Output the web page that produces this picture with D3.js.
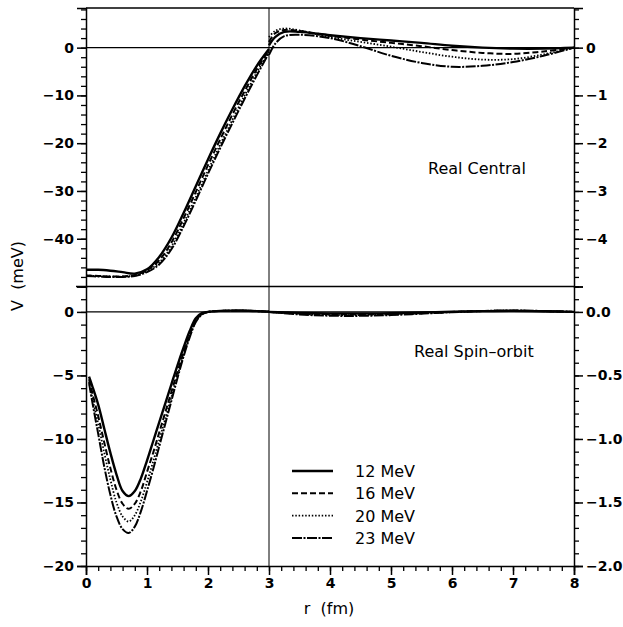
<!DOCTYPE html>
<html>
<head>
<meta charset="utf-8">
<script src="https://cdn.jsdelivr.net/npm/d3@7"></script>
<style>
  body { margin: 0; background: #fff; }
  svg { font-family: "DejaVu Sans", sans-serif; }
  .pre { white-space: pre; }
</style>
</head>
<body>
<div id="chart"></div>
<script>
// energies / legend
const energies = ["12 MeV", "16 MeV", "20 MeV", "23 MeV"]

// Real Central, r <= 3 (left axis, meV)
const rCentralIn = [0, 0.2, 0.4, 0.6, 0.8, 1.0, 1.2, 1.4, 1.6, 1.8, 2.0, 2.2, 2.4, 2.6, 2.8, 3.0]
const central12In = [-46.5, -46.5, -46.7, -47.0, -47.3, -46.4, -43.8, -39.8, -34.6, -29.0, -23.4, -18.0, -12.9, -8.1, -3.8, -0.3]
const central16In = [-47.7, -47.8, -47.9, -47.9, -47.6, -46.6, -44.5, -40.8, -35.7, -30.2, -24.6, -19.2, -14.0, -9.1, -4.5, -0.5]
const central20In = [-47.7, -47.8, -47.9, -47.9, -47.7, -46.8, -45.0, -41.6, -36.7, -31.3, -25.7, -20.3, -15.1, -10.0, -5.2, -0.8]
const central23In = [-47.8, -47.9, -48.0, -48.0, -47.8, -47.0, -45.4, -42.2, -37.4, -32.0, -26.4, -21.0, -15.8, -10.7, -5.8, -1.1]

// Real Central, r >= 3 (right axis, magnified x10)
const rCentralOut = [3.0, 3.1, 3.25, 3.5, 4.0, 4.5, 5.0, 5.5, 6.0, 6.5, 7.0, 7.5, 8.0]
const central12Out = [0.05, 0.22, 0.33, 0.33, 0.26, 0.20, 0.15, 0.10, 0.04, 0.00, -0.02, -0.02, 0]
const central16Out = [0.12, 0.30, 0.37, 0.35, 0.25, 0.17, 0.10, 0.03, -0.05, -0.11, -0.13, -0.08, 0]
const central20Out = [0.22, 0.35, 0.40, 0.36, 0.22, 0.12, 0.02, -0.09, -0.19, -0.25, -0.24, -0.14, 0]
const central23Out = [-0.15, 0.08, 0.24, 0.27, 0.20, 0.03, -0.17, -0.32, -0.40, -0.38, -0.30, -0.17, 0]

// Real Spin-orbit, r <= 3
const rSpinIn = [0.05, 0.1, 0.2, 0.3, 0.4, 0.5, 0.6, 0.7, 0.8, 0.9, 1.0, 1.1, 1.2, 1.3, 1.4, 1.5, 1.6, 1.7, 1.8, 1.9, 2.0, 2.2, 2.4, 2.6, 2.8, 3.0]
const spin12In = [-5.1, -5.8, -7.3, -9.2, -11.1, -12.8, -14.1, -14.5, -14.1, -13.1, -11.7, -10.2, -8.7, -7.2, -5.7, -4.2, -2.8, -1.5, -0.5, -0.1, 0.0, 0.08, 0.1, 0.1, 0.06, 0.02]
const spin16In = [-5.3, -6.3, -8.2, -10.3, -12.3, -14.0, -15.1, -15.5, -15.1, -14.1, -12.6, -11.1, -9.5, -7.9, -6.3, -4.7, -3.2, -1.8, -0.7, -0.15, 0.0, 0.08, 0.1, 0.1, 0.06, 0.02]
const spin20In = [-5.5, -6.7, -8.8, -11.1, -13.2, -15.0, -16.1, -16.5, -16.0, -14.9, -13.4, -11.8, -10.1, -8.4, -6.7, -5.0, -3.4, -1.9, -0.75, -0.2, 0.0, 0.08, 0.1, 0.1, 0.06, 0.02]
const spin23In = [-5.6, -7.0, -9.6, -12.2, -14.4, -16.1, -17.1, -17.4, -16.9, -15.7, -14.1, -12.4, -10.6, -8.8, -7.0, -5.2, -3.5, -2.0, -0.8, -0.2, 0.0, 0.08, 0.1, 0.1, 0.06, 0.02]

// Real Spin-orbit, r >= 3 (right axis, magnified x10)
const rSpinOut = [3.0, 3.5, 4.0, 4.5, 5.0, 5.5, 6.0, 6.5, 7.0, 7.5, 8.0]
const spin12Out = [0, -0.008, -0.012, -0.013, -0.010, -0.005, 0.002, 0.006, 0.008, 0.005, 0]
const spin16Out = [0, -0.012, -0.018, -0.019, -0.015, -0.008, 0.000, 0.007, 0.009, 0.006, 0]
const spin20Out = [0, -0.016, -0.024, -0.025, -0.020, -0.011, -0.002, 0.007, 0.010, 0.006, 0]
const spin23Out = [0, -0.020, -0.030, -0.031, -0.025, -0.014, -0.003, 0.007, 0.011, 0.007, 0]

const xTicks = [0, 1, 2, 3, 4, 5, 6, 7, 8]
const centralLeftTicks = [-40, -30, -20, -10, 0]
const centralRightTicks = [-4, -3, -2, -1, 0]
const spinLeftTicks = [-20, -15, -10, -5, 0]
const spinRightTicks = [-2.0, -1.5, -1.0, -0.5, 0.0]

const dashes = [null, "6,3", "1.5,1.8", "10,1.5,2,1.5"]
const widths = [2.4, 2, 1.8, 2]

const width = 623
const height = 627
const left = 86, right = 574
const topY = 8, midY = 286.5, botY = 566

const svg = d3.select("#chart")
  .append("svg")
    .attr("width", width)
    .attr("height", height)

const x = d3.scaleLinear().domain([0, 8]).range([left, right])

const yC = d3.scaleLinear().domain([-50, 8.3]).range([midY, topY])
const yCR = d3.scaleLinear().domain([-5, 0.83]).range([midY, topY])
const yS = d3.scaleLinear().domain([-20, 2]).range([botY, midY])
const ySR = d3.scaleLinear().domain([-2, 0.2]).range([botY, midY])

function range(a, b, step) {
  return d3.range(Math.round((b - a) / step) + 1).map(i => +(a + i * step).toFixed(3))
}

// minor ticks first, major ticks on top
function drawAxis(axisFn, scale, majors, minors, fmt, transform) {
  svg.append("g")
    .attr("transform", transform)
    .call(axisFn(scale).tickValues(minors).tickSize(5).tickFormat(""))
    .call(g => g.select(".domain").remove())
    .selectAll("line").attr("stroke-width", 1.3)
  const g = svg.append("g")
    .attr("transform", transform)
    .call(axisFn(scale).tickValues(majors).tickSize(9).tickPadding(3).tickFormat(fmt))
  g.select(".domain").attr("stroke-width", 1.5)
  g.selectAll("line").attr("stroke-width", 1.5)
  g.selectAll("text")
    .attr("font-family", "'DejaVu Sans', sans-serif")
    .attr("font-size", "14px")
    .attr("font-weight", "bold")
    .attr("fill", "#000")
  return g
}

// left axes
drawAxis(d3.axisLeft, yC, centralLeftTicks, range(-50, 8, 2), d3.format("d"), `translate(${left},0)`)
drawAxis(d3.axisLeft, yS, spinLeftTicks, range(-20, 2, 1), d3.format("d"), `translate(${left},0)`)
// right axes
drawAxis(d3.axisRight, yCR, centralRightTicks, range(-5, 0.8, 0.2), d3.format("d"), `translate(${right},0)`)
drawAxis(d3.axisRight, ySR, spinRightTicks, range(-2, 0.2, 0.1), d3.format(".1f"), `translate(${right},0)`)
// bottom axis
drawAxis(d3.axisBottom, x, xTicks, range(0, 8, 0.2), d3.format("d"), `translate(0,${botY})`)

// frame lines
svg.append("line")
  .attr("x1", left).attr("x2", right).attr("y1", topY).attr("y2", topY)
  .attr("stroke", "black").attr("stroke-width", 1.5)
svg.append("line")
  .attr("x1", left - 10).attr("x2", right).attr("y1", midY).attr("y2", midY)
  .attr("stroke", "black").attr("stroke-width", 1.5)
svg.append("line")
  .attr("x1", left).attr("x2", right).attr("y1", yC(0)).attr("y2", yC(0))
  .attr("stroke", "black").attr("stroke-width", 1.3)
svg.append("line")
  .attr("x1", left).attr("x2", right).attr("y1", yS(0)).attr("y2", yS(0))
  .attr("stroke", "black").attr("stroke-width", 1.3)
svg.append("line")
  .attr("x1", x(3)).attr("x2", x(3)).attr("y1", topY).attr("y2", botY)
  .attr("stroke", "black").attr("stroke-width", 1)

// curves
const centralIn = [central12In, central16In, central20In, central23In]
const centralOut = [central12Out, central16Out, central20Out, central23Out]
const spinIn = [spin12In, spin16In, spin20In, spin23In]
const spinOut = [spin12Out, spin16Out, spin20Out, spin23Out]

function drawCurve(rs, vs, yScale, i) {
  const line = d3.line()
    .x(d => x(d[0]))
    .y(d => yScale(d[1]))
    .curve(d3.curveCatmullRom.alpha(0.5))
  svg.append("path")
    .datum(d3.zip(rs, vs))
    .attr("d", line)
    .attr("fill", "none")
    .attr("stroke", "black")
    .attr("stroke-width", widths[i])
    .attr("stroke-dasharray", dashes[i])
}

energies.forEach((e, i) => {
  drawCurve(rCentralIn, centralIn[i], yC, i)
  drawCurve(rCentralOut, centralOut[i], yCR, i)
  drawCurve(rSpinIn, spinIn[i], yS, i)
  drawCurve(rSpinOut, spinOut[i], ySR, i)
})

// panel labels
svg.append("text")
  .attr("x", 428).attr("y", 174)
  .attr("font-size", "16px")
  .text("Real Central")
svg.append("text")
  .attr("x", 414).attr("y", 357)
  .attr("font-size", "16px")
  .text("Real Spin–orbit")

// legend
const legend = svg.append("g")
energies.forEach((e, i) => {
  const ly = 471 + i * 22.3
  legend.append("line")
    .attr("x1", 292).attr("x2", 333).attr("y1", ly).attr("y2", ly)
    .attr("stroke", "black")
    .attr("stroke-width", widths[i])
    .attr("stroke-dasharray", dashes[i])
  legend.append("text")
    .attr("x", 355).attr("y", ly + 6)
    .attr("font-size", "16px")
    .text(e)
})

// axis titles
svg.append("text")
  .attr("class", "pre")
  .attr("transform", "translate(23,276) rotate(-90)")
  .attr("text-anchor", "middle")
  .attr("font-size", "16px")
  .text("V  (meV)")
svg.append("text")
  .attr("class", "pre")
  .attr("x", 329).attr("y", 614)
  .attr("text-anchor", "middle")
  .attr("font-size", "16px")
  .text("r  (fm)")
</script>
</body>
</html>
